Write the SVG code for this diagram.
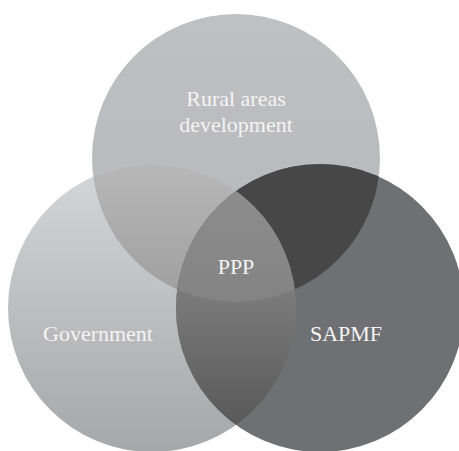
<svg xmlns="http://www.w3.org/2000/svg" width="459" height="451" viewBox="0 0 459 451">
<style>
text{font-family:"Liberation Serif","Times New Roman",serif;font-size:22px;fill:#f4f4f4;text-anchor:middle}
</style>
<defs>
<linearGradient id="gTop" gradientUnits="userSpaceOnUse" x1="0" y1="14" x2="0" y2="303"><stop offset="0" stop-color="#bfc0c3"/><stop offset="1" stop-color="#b6b7ba"/></linearGradient>
<linearGradient id="gLeft" gradientUnits="userSpaceOnUse" x1="0" y1="164" x2="0" y2="451"><stop offset="0" stop-color="#d5d6d8"/><stop offset="1" stop-color="#a6a7aa"/></linearGradient>
<linearGradient id="gTL" gradientUnits="userSpaceOnUse" x1="0" y1="164" x2="0" y2="300"><stop offset="0" stop-color="#b8b8b8"/><stop offset="1" stop-color="#9e9e9e"/></linearGradient>
<linearGradient id="gLR" gradientUnits="userSpaceOnUse" x1="0" y1="240" x2="0" y2="440"><stop offset="0" stop-color="#888888"/><stop offset="1" stop-color="#555555"/></linearGradient>
<linearGradient id="gC" gradientUnits="userSpaceOnUse" x1="0" y1="195" x2="0" y2="305"><stop offset="0" stop-color="#8c8c8c"/><stop offset="1" stop-color="#838383"/></linearGradient>
<clipPath id="cTop"><circle cx="236" cy="158" r="144"/></clipPath>
<clipPath id="cLeft"><circle cx="152" cy="308" r="144"/></clipPath>
<clipPath id="cRight"><circle cx="320" cy="308" r="144"/></clipPath>
</defs>
<g id="top"><circle cx="236" cy="158" r="144" fill="url(#gTop)"/></g>
<g id="left"><circle cx="152" cy="308" r="144" fill="url(#gLeft)"/></g>
<g id="right"><circle cx="320" cy="308" r="144" fill="#6f7074"/></g>
<g id="overlaps">
<g clip-path="url(#cTop)"><circle cx="152" cy="308" r="144" fill="url(#gTL)"/><circle cx="320" cy="308" r="144" fill="#474747"/></g>
<g clip-path="url(#cLeft)"><circle cx="320" cy="308" r="144" fill="url(#gLR)"/></g>
<g clip-path="url(#cTop)"><g clip-path="url(#cLeft)"><circle cx="320" cy="308" r="144" fill="url(#gC)"/></g></g>
</g>
<g id="labels">
<text x="236" y="106">Rural areas</text>
<text x="236" y="132">development</text>
<text x="236" y="274">PPP</text>
<text x="98" y="341">Government</text>
<text x="346" y="341">SAPMF</text>
</g>
</svg>
